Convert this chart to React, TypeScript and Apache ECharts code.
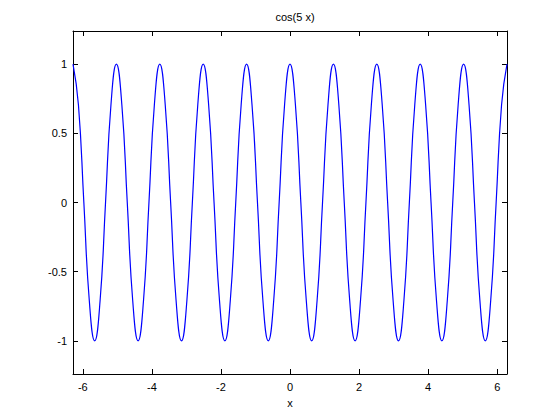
import React, { useEffect, useRef } from "react";
import * as echarts from "echarts";

const titleText = "cos(5 x)";
const xAxisName = "x";
const xTicks = [-6, -4, -2, 0, 2, 4, 6];
const yTicks = [-1, -0.5, 0, 0.5, 1];
const xRange = [-6.2832, 6.2832];
const yRange = [-1.24, 1.24];

const xValues = [
  -6.283, -6.126, -5.969, -5.812, -5.655, -5.498, -5.341, -5.184,
  -5.027, -4.869, -4.712, -4.555, -4.398, -4.241, -4.084, -3.927,
  -3.770, -3.613, -3.456, -3.299, -3.142, -2.985, -2.827, -2.670,
  -2.513, -2.356, -2.199, -2.042, -1.885, -1.728, -1.571, -1.414,
  -1.257, -1.100, -0.942, -0.785, -0.628, -0.471, -0.314, -0.157,
  0,
  0.157, 0.314, 0.471, 0.628, 0.785, 0.942, 1.100, 1.257,
  1.414, 1.571, 1.728, 1.885, 2.042, 2.199, 2.356, 2.513,
  2.670, 2.827, 2.985, 3.142, 3.299, 3.456, 3.613, 3.770,
  3.927, 4.084, 4.241, 4.398, 4.555, 4.712, 4.869, 5.027,
  5.184, 5.341, 5.498, 5.655, 5.812, 5.969, 6.126, 6.283,
];

const yValues = [
  1, 0.707, 0, -0.707, -1, -0.707, 0, 0.707,
  1, 0.707, 0, -0.707, -1, -0.707, 0, 0.707,
  1, 0.707, 0, -0.707, -1, -0.707, 0, 0.707,
  1, 0.707, 0, -0.707, -1, -0.707, 0, 0.707,
  1, 0.707, 0, -0.707, -1, -0.707, 0, 0.707,
  1,
  0.707, 0, -0.707, -1, -0.707, 0, 0.707, 1,
  0.707, 0, -0.707, -1, -0.707, 0, 0.707, 1,
  0.707, 0, -0.707, -1, -0.707, 0, 0.707, 1,
  0.707, 0, -0.707, -1, -0.707, 0, 0.707, 1,
  0.707, 0, -0.707, -1, -0.707, 0, 0.707, 1,
];

const FONT = "'Liberation Sans', Arial, Helvetica, sans-serif";

export default function App() {
  const ref = useRef<HTMLDivElement>(null);
  useEffect(() => {
    if (!ref.current) return;
    const chart = echarts.init(ref.current, undefined, { renderer: "svg" });
    const data = xValues.map((x, i) => [x, yValues[i]]);
    const axisCommon = {
      type: "value" as const,
      axisLine: { show: true, onZero: false, lineStyle: { color: "#000", width: 1 } },
      axisTick: { show: true, inside: true, length: 5, lineStyle: { color: "#000", width: 1 } },
      splitLine: { show: false },
    };
    chart.setOption({
      animation: false,
      backgroundColor: "#fff",
      title: {
        text: titleText,
        left: 290,
        top: 6,
        textAlign: "center",
        textStyle: { fontFamily: FONT, fontSize: 11, fontWeight: "normal", color: "#000" },
      },
      grid: { left: 73, right: 53, top: 31, bottom: 46, containLabel: false },
      xAxis: [
        {
          ...axisCommon,
          position: "bottom",
          min: xRange[0],
          max: xRange[1],
          name: xAxisName,
          nameLocation: "middle",
          nameGap: 23,
          nameTextStyle: { fontFamily: FONT, fontSize: 11, color: "#000" },
          axisTick: { ...axisCommon.axisTick, customValues: xTicks },
          axisLabel: { customValues: xTicks, fontFamily: FONT, fontSize: 11, color: "#000", margin: 7 },
        },
        {
          ...axisCommon,
          position: "top",
          min: xRange[0],
          max: xRange[1],
          axisTick: { ...axisCommon.axisTick, customValues: xTicks },
          axisLabel: { show: false, customValues: xTicks },
        },
      ],
      yAxis: [
        {
          ...axisCommon,
          position: "left",
          min: yRange[0],
          max: yRange[1],
          axisTick: { ...axisCommon.axisTick, customValues: yTicks },
          axisLabel: { customValues: yTicks, fontFamily: FONT, fontSize: 11, color: "#000", margin: 6 },
        },
        {
          ...axisCommon,
          position: "right",
          min: yRange[0],
          max: yRange[1],
          axisTick: { ...axisCommon.axisTick, customValues: yTicks },
          axisLabel: { show: false, customValues: yTicks },
        },
      ],
      series: [
        {
          type: "line",
          data,
          xAxisIndex: 0,
          yAxisIndex: 0,
          showSymbol: false,
          smooth: 0.5,
          lineStyle: { color: "#0000ff", width: 1.2 },
          itemStyle: { color: "#0000ff" },
        },
      ],
    });
    return () => chart.dispose();
  }, []);
  return (
    <div
      ref={ref}
      style={{ position: "absolute", left: 0, top: 0, width: 560, height: 420 }}
    />
  );
}
